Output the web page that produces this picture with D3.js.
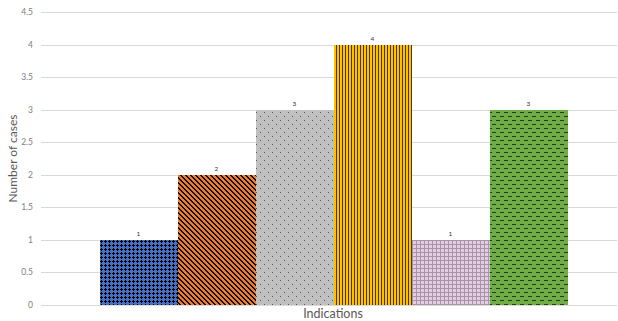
<!DOCTYPE html>
<html>
<head>
<meta charset="utf-8">
<script src="https://cdn.jsdelivr.net/npm/d3@7"></script>
<style>
  html, body { margin: 0; padding: 0; background: #fff; }
  svg { display: block; font-family: Lato, "Open Sans", "Liberation Sans", sans-serif; }
</style>
</head>
<body>
<svg id="chart" width="618" height="321"></svg>
<script>
// Cases per indication (one bar per indication, single category group)
const indications = ["Indication A", "Indication B", "Indication C", "Indication D", "Indication E", "Indication F"];
const cases = [1, 2, 3, 4, 1, 3];
const yTicks = [0, 0.5, 1, 1.5, 2, 2.5, 3, 3.5, 4, 4.5];
const yTickLabels = ["0", "0.5", "1", "1.5", "2", "2.5", "3", "3.5", "4", "4.5"];

const svg = d3.select("#chart");
const plot = { left: 41, right: 617, top: 12, bottom: 305 };

const y = d3.scaleLinear().domain([0, 4.5]).range([plot.bottom, plot.top]);
const x = d3.scaleBand().domain(indications).range([99.5, 567.5]).padding(0);

// Fill patterns, one per bar
const defs = svg.append("defs");
function pattern(id, w, h, bg, draw) {
  const p = defs.append("pattern").attr("id", id)
    .attr("patternUnits", "userSpaceOnUse").attr("width", w).attr("height", h);
  p.append("rect").attr("width", w).attr("height", h).attr("fill", bg);
  draw(p);
  return "url(#" + id + ")";
}
const px = (p, pts, c) => pts.forEach(([a, b, w, h]) =>
  p.append("rect").attr("x", a).attr("y", b).attr("width", w).attr("height", h)
    .attr("fill", c).attr("shape-rendering", "crispEdges"));

// diagonal band cells for a w×w tile: (col - row) mod w in [0, thick)
function diagCells(w, thick) {
  const cells = [];
  for (let r = 0; r < w; r++)
    for (let c = 0; c < w; c++)
      if (((c - r) % w + w) % w < thick) cells.push([c, r, 1, 1]);
  return cells;
}

const fills = [
  pattern("pBlue", 4, 4, "#4472C4", p => px(p, [[1, 0, 1, 3], [0, 1, 3, 1]], "#000")),
  pattern("pOrange", 5, 5, "#ED7D31", p => px(p, diagCells(5, 2), "#111")),
  pattern("pGray", 8, 8, "#C0C0C0", p => px(p, [[0, 0, 1, 1], [4, 4, 1, 1]], "#555")),
  pattern("pYellow", 3, 3, "#FFC000", p => px(p, [[0, 0, 1, 3]], "#45380f")),
  pattern("pPink", 4, 4, "#E4CCE4", p => px(p, [[0, 0, 4, 1], [0, 0, 1, 4]], "#a595a5")),
  pattern("pGreen", 8, 8, "#70AD47", p => px(p, [[0, 0, 4, 1], [4, 4, 4, 1]], "#1f3d12"))
];

// Horizontal gridlines
svg.append("g").selectAll("line").data(yTicks).join("line")
  .attr("x1", plot.left).attr("x2", plot.right)
  .attr("y1", d => Math.round(y(d)) + 0.5).attr("y2", d => Math.round(y(d)) + 0.5)
  .attr("stroke", "#d9d9d9").attr("stroke-width", 1);

// Y tick labels
svg.append("g").selectAll("text").data(yTicks).join("text")
  .attr("x", 33).attr("y", d => y(d))
  .attr("dy", "0.35em").attr("text-anchor", "end")
  .attr("font-size", 8.5).attr("fill", "#808080")
  .text((d, i) => yTickLabels[i]);

// Bars
svg.append("g").selectAll("rect").data(cases).join("rect")
  .attr("x", (d, i) => x(indications[i]))
  .attr("width", x.bandwidth())
  .attr("y", d => y(d))
  .attr("height", d => y(0) - y(d))
  .attr("fill", (d, i) => fills[i])
  .attr("shape-rendering", "crispEdges");

// Value labels
svg.append("g").selectAll("text").data(cases).join("text")
  .attr("x", (d, i) => x(indications[i]) + x.bandwidth() / 2)
  .attr("y", d => y(d) - 4)
  .attr("text-anchor", "middle")
  .attr("font-size", 6.5).attr("fill", "#333")
  .text(d => d);

// Axis titles
svg.append("text")
  .attr("transform", `translate(13, ${(plot.top + plot.bottom) / 2}) rotate(-90)`)
  .attr("text-anchor", "middle").attr("dy", "0.35em")
  .attr("font-size", 12).attr("fill", "#595959")
  .text("Number of cases");

svg.append("text")
  .attr("x", 333).attr("y", 314).attr("dy", "0.35em")
  .attr("text-anchor", "middle")
  .attr("font-size", 12.5).attr("fill", "#595959")
  .text("Indications");
</script>
</body>
</html>
